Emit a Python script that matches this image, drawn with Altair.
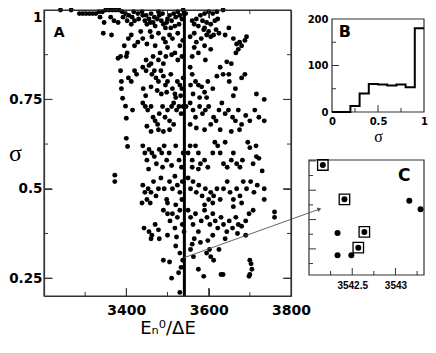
import altair as alt
import pandas as pd

# ---------------- Panel A : sigma versus E_n^0 / dE ----------------
a_points = [
    # sigma ~ 0.95 - 1.0
    (3240, 1.0), (3266, 1.0), (3286, 0.99), (3294, 0.99), (3302, 0.99), (3310, 0.99), (3318, 0.99),
    (3326, 0.99), (3334, 0.995), (3342, 0.995), (3350, 1.0), (3358, 1.0), (3366, 1.0), (3374, 1.0),
    (3382, 1.0), (3390, 0.995), (3398, 0.99), (3406, 0.985), (3414, 0.98), (3420, 0.97), (3430, 0.975),
    (3440, 0.985), (3445, 0.97), (3450, 0.96), (3455, 0.975), (3460, 0.99), (3465, 0.965), (3470, 0.955),
    (3475, 0.975), (3480, 0.985), (3485, 0.97), (3490, 0.96), (3495, 0.95), (3500, 0.975), (3505, 0.985),
    (3510, 0.97), (3515, 0.99), (3520, 0.98), (3525, 0.995), (3530, 0.985), (3535, 0.975), (3540, 0.99),
    (3538, 1.0), (3528, 0.96), (3518, 0.955), (3508, 0.95), (3498, 0.965), (3488, 0.99), (3478, 0.995),
    (3468, 0.98), (3458, 0.965), (3448, 0.985), (3438, 0.995), (3428, 0.99), (3418, 0.995), (3412, 0.96),
    (3402, 0.97), (3392, 0.98), (3380, 0.965), (3370, 0.97), (3362, 0.98), (3346, 0.965), (3336, 0.98),
    (3544, 0.99), (3560, 0.97), (3570, 0.975), (3580, 0.985), (3590, 0.99), (3600, 0.995), (3610, 0.99),
    (3620, 0.995), (3635, 1.0), (3565, 0.96), (3575, 0.955), (3585, 0.97), (3595, 0.965), (3605, 0.96),
    (3615, 0.97), (3622, 0.975), (3590, 0.95), (3649, 0.95),
    # sigma ~ 0.85 - 0.95
    (3344, 0.935), (3364, 0.93), (3395, 0.9), (3405, 0.92), (3412, 0.93), (3402, 0.88), (3420, 0.9),
    (3428, 0.91), (3435, 0.94), (3440, 0.92), (3450, 0.905), (3458, 0.94), (3462, 0.925), (3470, 0.9),
    (3478, 0.935), (3482, 0.88), (3490, 0.92), (3495, 0.91), (3500, 0.895), (3505, 0.93), (3512, 0.92),
    (3518, 0.88), (3525, 0.935), (3530, 0.9), (3537, 0.915), (3386, 0.87), (3380, 0.865), (3400, 0.87),
    (3448, 0.86), (3465, 0.87), (3478, 0.86), (3496, 0.87), (3510, 0.875), (3525, 0.86), (3535, 0.87),
    (3490, 0.85), (3460, 0.85), (3555, 0.925), (3565, 0.935), (3570, 0.91), (3575, 0.88), (3582, 0.92),
    (3588, 0.945), (3595, 0.93), (3600, 0.94), (3605, 0.925), (3612, 0.93), (3618, 0.945), (3625, 0.935),
    (3640, 0.93), (3660, 0.92), (3668, 0.905), (3675, 0.91), (3680, 0.9), (3688, 0.915), (3692, 0.925),
    (3672, 0.89), (3666, 0.88), (3560, 0.87), (3565, 0.895), (3590, 0.9), (3605, 0.89), (3644, 0.855),
    (3655, 0.85), (3592, 0.86),
    # sigma ~ 0.75 - 0.85
    (3386, 0.83), (3388, 0.8), (3388, 0.78), (3405, 0.81), (3412, 0.8), (3420, 0.83), (3425, 0.82),
    (3440, 0.84), (3448, 0.83), (3455, 0.845), (3462, 0.82), (3468, 0.83), (3472, 0.81), (3478, 0.8),
    (3484, 0.83), (3490, 0.815), (3495, 0.79), (3500, 0.8), (3508, 0.82), (3512, 0.78), (3518, 0.765),
    (3524, 0.8), (3530, 0.79), (3535, 0.78), (3538, 0.81), (3441, 0.78), (3447, 0.76), (3460, 0.785),
    (3475, 0.775), (3485, 0.765), (3498, 0.77), (3520, 0.755), (3532, 0.76), (3555, 0.84), (3560, 0.82),
    (3568, 0.8), (3575, 0.79), (3583, 0.785), (3590, 0.77), (3598, 0.8), (3610, 0.78), (3620, 0.815),
    (3628, 0.84), (3635, 0.82), (3649, 0.82), (3650, 0.8), (3660, 0.76), (3665, 0.78), (3680, 0.81),
    (3688, 0.82), (3716, 0.765), (3556, 0.79), (3562, 0.765), (3578, 0.755), (3595, 0.755),
    # sigma ~ 0.65 - 0.75
    (3391, 0.753), (3398, 0.731), (3400, 0.697), (3415, 0.72), (3440, 0.74), (3446, 0.73), (3452, 0.72),
    (3460, 0.73), (3465, 0.7), (3470, 0.69), (3476, 0.68), (3480, 0.71), (3488, 0.73), (3494, 0.7),
    (3500, 0.72), (3505, 0.69), (3510, 0.73), (3515, 0.74), (3522, 0.72), (3528, 0.73), (3533, 0.71),
    (3538, 0.73), (3545, 0.73), (3478, 0.665), (3490, 0.66), (3505, 0.665), (3450, 0.675), (3460, 0.66),
    (3515, 0.68), (3555, 0.74), (3562, 0.72), (3568, 0.7), (3578, 0.73), (3585, 0.71), (3592, 0.72),
    (3600, 0.73), (3612, 0.7), (3618, 0.69), (3625, 0.72), (3632, 0.74), (3640, 0.71), (3648, 0.72),
    (3658, 0.7), (3665, 0.69), (3672, 0.72), (3680, 0.68), (3690, 0.705), (3700, 0.69), (3712, 0.72),
    (3722, 0.7), (3735, 0.69), (3735, 0.75), (3555, 0.68), (3570, 0.67), (3590, 0.665), (3605, 0.68),
    (3628, 0.665), (3655, 0.66), (3675, 0.665),
    # sigma ~ 0.55 - 0.65
    (3400, 0.641), (3403, 0.618), (3440, 0.62), (3445, 0.6), (3450, 0.58), (3455, 0.61), (3462, 0.6),
    (3468, 0.59), (3473, 0.57), (3480, 0.61), (3486, 0.6), (3492, 0.62), (3498, 0.58), (3504, 0.6),
    (3510, 0.565), (3520, 0.62), (3528, 0.58), (3534, 0.56), (3538, 0.6), (3454, 0.555), (3488, 0.56),
    (3550, 0.6), (3555, 0.62), (3560, 0.58), (3568, 0.62), (3575, 0.6), (3580, 0.57), (3590, 0.58),
    (3598, 0.56), (3610, 0.6), (3615, 0.63), (3622, 0.62), (3628, 0.6), (3636, 0.57), (3645, 0.56),
    (3655, 0.58), (3660, 0.6), (3668, 0.57), (3676, 0.56), (3682, 0.58), (3695, 0.63), (3700, 0.615),
    (3708, 0.57), (3716, 0.59), (3722, 0.585), (3730, 0.55), (3715, 0.62), (3640, 0.63), (3560, 0.56),
    (3575, 0.555),
    # sigma ~ 0.45 - 0.55
    (3372, 0.538), (3372, 0.52), (3440, 0.51), (3445, 0.49), (3450, 0.47), (3453, 0.5), (3460, 0.49),
    (3466, 0.52), (3472, 0.48), (3478, 0.5), (3484, 0.53), (3492, 0.5), (3498, 0.47), (3505, 0.52),
    (3512, 0.5), (3518, 0.535), (3524, 0.51), (3530, 0.49), (3536, 0.52), (3438, 0.46), (3458, 0.46),
    (3500, 0.46), (3520, 0.455), (3535, 0.47), (3550, 0.53), (3556, 0.5), (3562, 0.52), (3570, 0.49),
    (3576, 0.51), (3584, 0.48), (3592, 0.5), (3600, 0.47), (3605, 0.49), (3612, 0.48), (3620, 0.5),
    (3628, 0.47), (3636, 0.5), (3645, 0.52), (3652, 0.49), (3660, 0.47), (3668, 0.5), (3676, 0.48),
    (3684, 0.52), (3692, 0.5), (3702, 0.52), (3710, 0.49), (3718, 0.51), (3735, 0.5), (3735, 0.47),
    (3680, 0.46), (3660, 0.45), (3590, 0.455), (3610, 0.46),
    # sigma ~ 0.35 - 0.45
    (3443, 0.39), (3455, 0.38), (3462, 0.37), (3470, 0.4), (3478, 0.385), (3490, 0.44), (3500, 0.43),
    (3506, 0.41), (3512, 0.43), (3518, 0.39), (3524, 0.42), (3530, 0.44), (3536, 0.4), (3522, 0.365),
    (3500, 0.37), (3480, 0.36), (3460, 0.36), (3540, 0.38), (3550, 0.44), (3556, 0.42), (3562, 0.4),
    (3568, 0.43), (3575, 0.38), (3582, 0.41), (3590, 0.44), (3596, 0.42), (3603, 0.4), (3610, 0.43),
    (3616, 0.41), (3622, 0.39), (3630, 0.42), (3636, 0.4), (3644, 0.38), (3650, 0.41), (3658, 0.39),
    (3666, 0.42), (3672, 0.4), (3680, 0.395), (3690, 0.41), (3698, 0.43), (3708, 0.44), (3760, 0.435),
    (3760, 0.42), (3565, 0.36), (3580, 0.35), (3598, 0.355), (3610, 0.37), (3640, 0.36), (3670, 0.375),
    (3690, 0.37),
    # sigma ~ 0.2 - 0.35
    (3490, 0.3), (3505, 0.295), (3510, 0.25), (3520, 0.34), (3530, 0.32), (3533, 0.28), (3530, 0.21),
    (3537, 0.3), (3527, 0.265), (3556, 0.33), (3563, 0.31), (3575, 0.275), (3588, 0.255), (3595, 0.32),
    (3602, 0.33), (3605, 0.31), (3612, 0.3), (3625, 0.33), (3630, 0.26), (3635, 0.26), (3700, 0.3),
    (3703, 0.29), (3705, 0.275), (3700, 0.26), (3698, 0.255), (3560, 0.345),
]
a_rule_x = [3541]
a_arrow_x = [3540, 3869]
a_arrow_y = [0.307, 0.443]
a_xmajor, a_xminor = [3400, 3600], [3300, 3500, 3700]
a_ymajor, a_yminor = [0.25, 0.5, 0.75], [0.375, 0.625, 0.875]

# ---------------- Panel B : histogram of sigma ----------------
b_edges = [0.0, 0.1, 0.2, 0.3, 0.4, 0.5, 0.6, 0.7, 0.8, 0.9, 1.0]
b_counts = [0, 0, 13, 40, 60, 59, 57, 59, 53, 180]
b_xmajor, b_xminor = [0.5], [0.25, 0.75]
b_ymajor, b_yminor = [100], [50, 150]

# ---------------- Panel C : zoom near the line ----------------
c_x = [3542.16, 3542.41, 3542.33, 3542.64, 3542.57, 3542.33, 3542.49, 3543.16, 3543.29]
c_y = [0.3286, 0.3169, 0.3054, 0.3058, 0.3004, 0.2978, 0.2978, 0.3164, 0.3135]
c_boxed = [1, 1, 0, 1, 1, 0, 0, 0, 0]
c_xmajor, c_xminor = [3542.5, 3543], [3542.25, 3542.75, 3543.25]
c_ymajor, c_yminor = [0.30, 0.31, 0.32, 0.33], [0.295, 0.305, 0.315, 0.325]

# ---------------- layout (pixels inside the single view) ----------------
W, H = 381, 286
FR = "#333333"
SANS = "DejaVu Sans"

A_XD, A_XR = [3200, 3800], [1, 248]
A_YD, A_YR = [0.2, 1.0], [286, 0]
B_XD, B_XR = [0, 1], [289, 381]
B_YD, B_YR = [0, 200], [102, 9]
C_XD, C_XR = [3542, 3543.33], [266, 381]
C_YD, C_YR = [0.2911, 0.3303], [265, 150]


def sc(d, r):
    return alt.Scale(domain=d, range=r, zero=False, nice=False)


def enc(xd, xr, yd, yr, xaxis=None, yaxis=None, **extra):
    return dict(x=alt.X("x:Q", scale=sc(xd, xr), axis=xaxis),
                y=alt.Y("y:Q", scale=sc(yd, yr), axis=yaxis), **extra)


def axes_layer(xd, yd, xr, yr, xaxis, yaxis):
    df = pd.DataFrame({"x": xd, "y": yd})
    return alt.Chart(df).mark_point(opacity=0).encode(
        x=alt.X("x:Q", scale=sc(xd, xr), axis=xaxis),
        y=alt.Y("y:Q", scale=sc(yd, yr), axis=yaxis),
    )


def frame_axis(orient, offset):
    return alt.Axis(orient=orient, offset=offset, values=[], labels=False, ticks=False,
                    domain=True, domainColor=FR, domainWidth=1.2, grid=False, title=None)


def tick_axis(orient, offset, values, size):
    return alt.Axis(orient=orient, offset=offset, values=values, labels=False, ticks=True,
                    tickSize=size, tickColor=FR, tickWidth=1, domain=False, grid=False,
                    title=None)


def frame_layer(xd, xr, yd, yr):
    df = pd.DataFrame({"x": [xd[0]], "x2": [xd[1]], "y": [yd[0]], "y2": [yd[1]]})
    return alt.Chart(df).mark_rect(fill=None, stroke=FR, strokeWidth=1.2, opacity=1).encode(
        **enc(xd, xr, yd, yr, x2="x2:Q", y2="y2:Q"))


def tick_layer(xd, xr, yd, yr, xs, ys, orient, size, dx=0, dy=0):
    df = pd.DataFrame({"x": xs, "y": ys})
    return alt.Chart(df).mark_tick(orient=orient, size=size, thickness=1, color=FR, opacity=1,
                                   xOffset=dx, yOffset=dy).encode(**enc(xd, xr, yd, yr))


def panel_ticks(xd, xr, yd, yr, xmaj, xmin, ymaj, ymin, big, small, mirror):
    out = []
    for vals, size in ((xmaj, big), (xmin, small)):
        out.append(tick_layer(xd, xr, yd, yr, vals, [yd[0]] * len(vals), "vertical", size,
                              dy=-size / 2))
        if mirror:
            out.append(tick_layer(xd, xr, yd, yr, vals, [yd[1]] * len(vals), "vertical", size,
                                  dy=size / 2))
    for vals, size in ((ymaj, big), (ymin, small)):
        out.append(tick_layer(xd, xr, yd, yr, [xd[0]] * len(vals), vals, "horizontal", size,
                              dx=size / 2))
        if mirror:
            out.append(tick_layer(xd, xr, yd, yr, [xd[1]] * len(vals), vals, "horizontal", size,
                                  dx=-size / 2))
    return out


layers = []

# ----- Panel A axes -----
layers.append(axes_layer(
    A_XD, A_YD, A_XR, A_YR,
    alt.Axis(orient="bottom", offset=0, values=[3400, 3600, 3800], format="d",
             labelFont=SANS, labelFontSize=14, labelFontWeight="bold", labelColor="black",
             labelPadding=7, labelFlush=False, ticks=False, tickSize=0, domain=True,
             domainColor=FR, domainWidth=1.2, grid=False,
             title="Eₙ⁰/ΔE", titleFont=SANS, titleFontSize=18, titleFontWeight="normal",
             titleColor="black", titleX=124.5, titleY=37, titleBaseline="alphabetic",
             titleAlign="center"),
    alt.Axis(orient="left", offset=-1, values=[0.25, 0.5, 0.75, 1.0], format=".2~f",
             labelFont=SANS, labelFontSize=13.5, labelFontWeight="bold", labelColor="black",
             labelPadding=2, labelFlush=True, ticks=False, tickSize=0, domain=True,
             domainColor=FR, domainWidth=1.2, grid=False,
             title="σ", titleFont="Liberation Serif", titleFontSize=24, titleFontWeight="normal",
             titleColor="black", titleAngle=0, titleX=-29, titleY=143, titleAlign="center",
             titleBaseline="middle"),
))

# ----- Panel B axes -----
layers.append(axes_layer(
    B_XD, B_YD, B_XR, B_YR,
    alt.Axis(orient="bottom", offset=-184, values=[0, 0.5, 1], format=".1~f",
             labelFont=SANS, labelFontSize=10, labelFontWeight="bold", labelColor="black",
             labelPadding=4, labelFlush=False, ticks=False, tickSize=0, domain=False, grid=False,
             title="σ", titleFont="Liberation Serif", titleFontSize=16, titleFontWeight="normal",
             titleColor="black", titleX=335, titleY=24, titleAlign="center",
             titleBaseline="middle"),
    alt.Axis(orient="left", offset=-289, values=[0, 100, 200], format="d",
             labelFont=SANS, labelFontSize=10, labelFontWeight="bold", labelColor="black",
             labelPadding=4, labelFlush=False, ticks=False, tickSize=0, domain=False, grid=False,
             title=None),
))

# ----- Panel C axes -----
layers.append(axes_layer(
    C_XD, C_YD, C_XR, C_YR,
    alt.Axis(orient="bottom", offset=-21, values=[3542.5, 3543], format=".1~f",
             labelFont="Liberation Sans", labelFontSize=10, labelFontWeight="bold",
             labelColor="black", labelPadding=5, labelFlush=False, ticks=False, tickSize=0,
             domain=False, grid=False, title=None),
    alt.Axis(orient="left", offset=-266, values=[], labels=False, ticks=False, domain=False,
             grid=False, title=None),
))

# ----- B and C frames and inward tick marks -----
layers.append(frame_layer(B_XD, B_XR, B_YD, B_YR))
layers.append(frame_layer(C_XD, C_XR, C_YD, C_YR))
layers += panel_ticks(B_XD, B_XR, B_YD, B_YR, b_xmajor, b_xminor, b_ymajor, b_yminor, 7, 4, False)
layers += panel_ticks(C_XD, C_XR, C_YD, C_YR, c_xmajor, c_xminor, c_ymajor, c_yminor, 7, 4, False)

# ----- Panel A data (the points layer also carries the top / right frame lines) -----
df_a = pd.DataFrame(a_points, columns=["x", "y"])
layers.append(alt.Chart(df_a).mark_circle(size=24, color="black", opacity=1).encode(
    **enc(A_XD, A_XR, A_YD, A_YR,
          xaxis=frame_axis("top", 0), yaxis=frame_axis("right", -(W - A_XR[1])))))
df_rule = pd.DataFrame({"x": a_rule_x, "y": [A_YD[0]], "y2": [A_YD[1]]})
layers.append(alt.Chart(df_rule).mark_rule(color="black", strokeWidth=3).encode(
    **enc(A_XD, A_XR, A_YD, A_YR,
          xaxis=tick_axis("top", -H, a_xmajor, 8), yaxis=tick_axis("right", -(W - A_XR[0]), a_ymajor, 8),
          y2="y2:Q")))
df_arrow = pd.DataFrame({"x": [a_arrow_x[0]], "x2": [a_arrow_x[1]],
                         "y": [a_arrow_y[0]], "y2": [a_arrow_y[1]]})
layers.append(alt.Chart(df_arrow).mark_rule(color="#555555", strokeWidth=0.9).encode(
    **enc(A_XD, A_XR, A_YD, A_YR,
          xaxis=tick_axis("bottom", -H, a_xmajor, 8), yaxis=tick_axis("left", -A_XR[1], a_ymajor, 8),
          x2="x2:Q", y2="y2:Q")))
df_head = pd.DataFrame({"x": [a_arrow_x[1]], "y": [a_arrow_y[1]]})
layers.append(alt.Chart(df_head).mark_point(shape="triangle-right", angle=341, filled=True,
                                            size=22, color="#555555", opacity=1).encode(
    **enc(A_XD, A_XR, A_YD, A_YR)))
layers.append(alt.Chart(pd.DataFrame({"x": [3237], "y": [0.936], "t": ["A"]})).mark_text(
    font=SANS, fontSize=14, fontWeight="bold", color="black").encode(
    **enc(A_XD, A_XR, A_YD, A_YR, text="t:N")))

# ----- Panel B data -----
df_b = pd.DataFrame({"x": b_edges, "y": b_counts + [b_counts[-1]]})
layers.append(alt.Chart(df_b).mark_line(interpolate="step-after", color="black",
                                        strokeWidth=2).encode(
    **enc(B_XD, B_XR, B_YD, B_YR)))
layers.append(alt.Chart(pd.DataFrame({"x": [0.14], "y": [171], "t": ["B"]})).mark_text(
    font=SANS, fontSize=16, fontWeight="bold", color="black").encode(
    **enc(B_XD, B_XR, B_YD, B_YR, text="t:N")))

# ----- Panel C data -----
df_c = pd.DataFrame({"x": c_x, "y": c_y, "boxed": c_boxed})
layers.append(alt.Chart(df_c).mark_circle(size=36, color="black", opacity=1).encode(
    **enc(C_XD, C_XR, C_YD, C_YR)))
layers.append(alt.Chart(df_c).transform_filter("datum.boxed == 1").mark_point(
    shape="square", filled=False, size=110, color="black", strokeWidth=1.3, opacity=1).encode(
    **enc(C_XD, C_XR, C_YD, C_YR)))
layers.append(alt.Chart(pd.DataFrame({"x": [3543.1], "y": [0.3247], "t": ["C"]})).mark_text(
    font=SANS, fontSize=17, fontWeight="bold", color="black").encode(
    **enc(C_XD, C_XR, C_YD, C_YR, text="t:N")))

# ----- Panel A frame and minor inward ticks -----
layers.append(frame_layer(A_XD, A_XR, A_YD, A_YR))
layers += panel_ticks(A_XD, A_XR, A_YD, A_YR, a_xmajor, a_xminor, a_ymajor, a_yminor, 8, 4, True)

chart = alt.layer(*layers).resolve_scale(x="independent", y="independent").properties(
    width=W, height=H,
    autosize=alt.AutoSizeParams(type="none"),
    padding={"left": 35, "top": 2, "right": 4, "bottom": 41},
).configure_view(stroke=None).configure_axis(grid=False)

chart.save("out.html", embed_options={"renderer": "svg", "actions": False})
